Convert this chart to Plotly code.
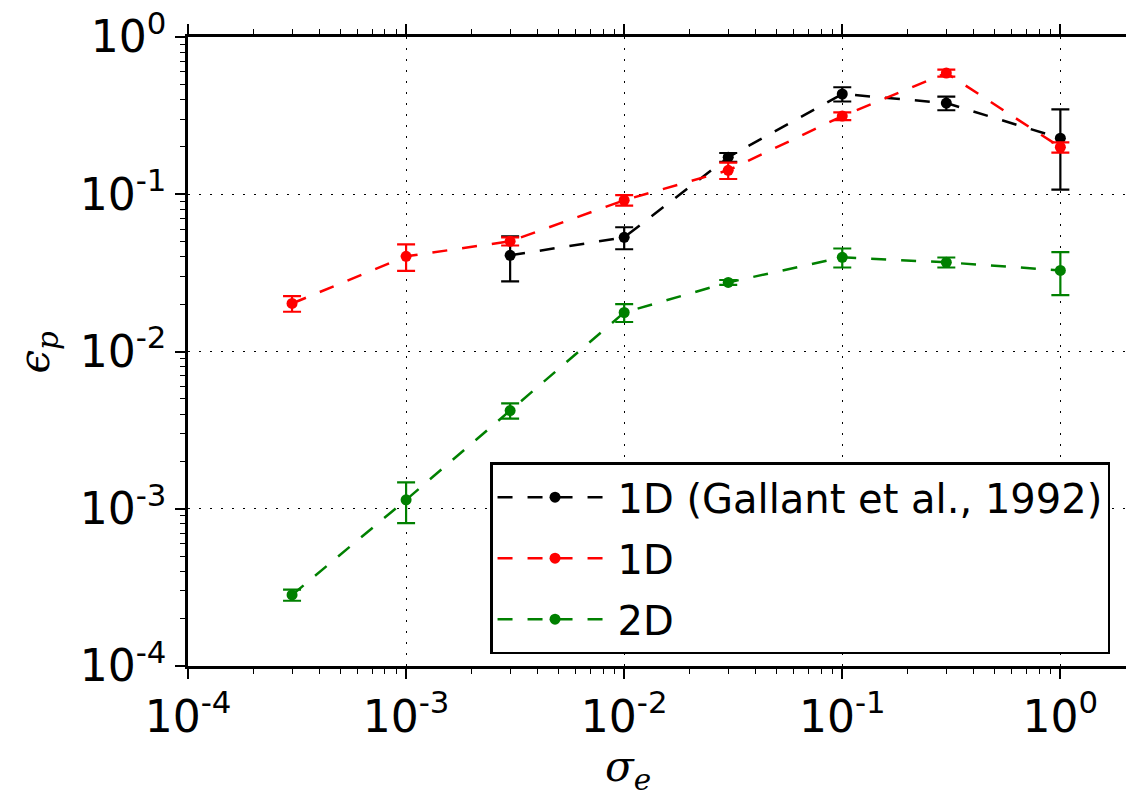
import plotly.graph_objects as go

# sigma_e values
x_gallant = [3e-3, 1e-2, 3e-2, 0.1, 0.3, 1.0]
y_gallant = [0.0409, 0.0532, 0.172, 0.434, 0.380, 0.227]
e_gallant = [0.013, 0.0085, 0.011, 0.045, 0.038, 0.12]

x_1d = [3e-4, 1e-3, 3e-3, 1e-2, 3e-2, 0.1, 0.3, 1.0]
y_1d = [0.0202, 0.0403, 0.0502, 0.0916, 0.142, 0.314, 0.590, 0.199]
e_1d = [0.0023, 0.0077, 0.003, 0.007, 0.017, 0.018, 0.03, 0.015]

x_2d = [3e-4, 1e-3, 3e-3, 1e-2, 3e-2, 0.1, 0.3, 1.0]
y_2d = [0.000283, 0.00114, 0.00421, 0.0177, 0.0275, 0.0397, 0.0369, 0.0328]
e_2d = [0.000023, 0.00033, 0.00047, 0.0023, 0.001, 0.0055, 0.0027, 0.01]

series_names = ["1D (Gallant et al., 1992)", "1D", "2D"]
series_colors = ["#000000", "#ff0000", "#008000"]

x_tickvals = [1e-4, 1e-3, 1e-2, 1e-1, 1e0]
x_ticktext = ["10<sup>-4</sup>", "10<sup>-3</sup>", "10<sup>-2</sup>", "10<sup>-1</sup>", "10<sup>0</sup>"]
y_tickvals = [1e-4, 1e-3, 1e-2, 1e-1, 1e0]
y_ticktext = ["10<sup>-4</sup>", "10<sup>-3</sup>", "10<sup>-2</sup>", "10<sup>-1</sup>", "10<sup>0</sup>"]
decades = [1e-4, 1e-3, 1e-2, 1e-1, 1e0]
minor_vals = [m * d for d in decades for m in range(2, 10)]

FONT = "DejaVu Sans"

fig = go.Figure()
for i, (xs, ys, es, name, col) in enumerate([
    (x_gallant, y_gallant, e_gallant, series_names[0], series_colors[0]),
    (x_1d, y_1d, e_1d, series_names[1], series_colors[1]),
    (x_2d, y_2d, e_2d, series_names[2], series_colors[2]),
]):
    fig.add_trace(go.Scatter(
        x=xs, y=ys, name=name, mode="lines+markers", legendgroup=f"g{i}",
        line=dict(color=col, width=2.5, dash="15px,15px"),
        marker=dict(color=col, size=11, line=dict(width=0)),
        error_y=dict(type="data", array=es, visible=True, color=col, thickness=2.2, width=9),
    ))

axis_common = dict(
    type="log",
    showline=True, linecolor="black", linewidth=2.5,
    ticks="outside", ticklen=10, tickwidth=1.5, tickcolor="black",
    showgrid=True, gridcolor="black", gridwidth=1.3, griddash="2px,9px",
    zeroline=False, automargin=False,
    tickfont=dict(family=FONT, size=44, color="black"),
    minor=dict(tickvals=minor_vals, ticks="outside", ticklen=5, tickwidth=1.2,
               tickcolor="black", showgrid=False),
)

fig.update_layout(
    width=1126, height=797,
    margin=dict(l=188, r=0, t=37, b=131),
    plot_bgcolor="white", paper_bgcolor="white",
    font=dict(family=FONT, color="black"),
    xaxis=dict(axis_common, range=[-4, 0.301], tickvals=x_tickvals, ticktext=x_ticktext,
               mirror="allticks"),
    yaxis=dict(axis_common, range=[-4, 0], tickvals=y_tickvals, ticktext=y_ticktext,
               mirror=False),
    legend=dict(
        x=0.322, y=0.324, xanchor="left", yanchor="top",
        bgcolor="white", bordercolor="black", borderwidth=2.5,
        font=dict(family=FONT, size=40, color="black"),
        itemwidth=115, traceorder="grouped", tracegroupgap=6,
    ),
    showlegend=True,
)

fig.add_annotation(
    text="<i>σ</i><sub><i>e</i></sub>", xref="paper", yref="paper",
    x=0.469, y=-0.165, xanchor="center", yanchor="middle", showarrow=False,
    font=dict(family="DejaVu Serif", size=42, color="black"),
)
fig.add_annotation(
    text="<i>ϵ</i><sub><i>p</i></sub>", xref="paper", yref="paper",
    x=-0.16, y=0.5, xanchor="center", yanchor="middle", showarrow=False,
    textangle=-90,
    font=dict(family="DejaVu Serif", size=42, color="black"),
)

fig.write_html("out.html")
